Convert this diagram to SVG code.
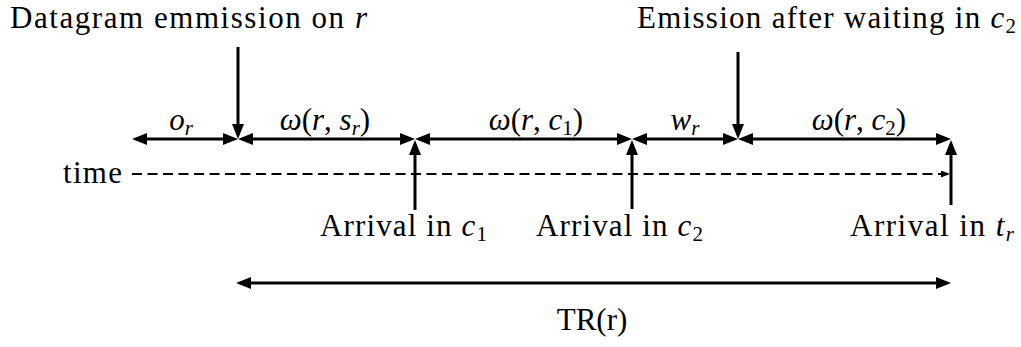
<svg xmlns="http://www.w3.org/2000/svg" width="1021" height="347" viewBox="0 0 1021 347" font-family="Liberation Serif">
<defs>
<marker id="h" markerUnits="userSpaceOnUse" markerWidth="16" markerHeight="13" refX="11" refY="6" orient="auto-start-reverse">
<path d="M0,0 L15,6 L0,12 Z" fill="#000" stroke="none"/>
</marker>
<marker id="hs" markerUnits="userSpaceOnUse" markerWidth="10" markerHeight="8" refX="7" refY="3.5" orient="auto">
<path d="M0,0 L9,3.5 L0,7 Z" fill="#000" stroke="none"/>
</marker>
</defs>
<g id="connectors" stroke="#000" stroke-width="3" fill="none">
<line x1="132" y1="174" x2="948" y2="174" stroke-width="2" stroke-dasharray="10 5.5" marker-end="url(#hs)"/>
<line x1="136" y1="139" x2="234" y2="139" marker-start="url(#h)" marker-end="url(#h)"/>
<line x1="242" y1="139" x2="411" y2="139" marker-start="url(#h)" marker-end="url(#h)"/>
<line x1="419" y1="139" x2="628" y2="139" marker-start="url(#h)" marker-end="url(#h)"/>
<line x1="636" y1="139" x2="734" y2="139" marker-start="url(#h)" marker-end="url(#h)"/>
<line x1="742" y1="139" x2="947" y2="139" marker-start="url(#h)" marker-end="url(#h)"/>
<line x1="238" y1="47" x2="238" y2="135" marker-end="url(#h)"/>
<line x1="738" y1="52" x2="738" y2="135" marker-end="url(#h)"/>
<line x1="415" y1="210" x2="415" y2="144" marker-end="url(#h)"/>
<line x1="632" y1="209" x2="632" y2="144" marker-end="url(#h)"/>
<line x1="951" y1="205" x2="951" y2="144" marker-end="url(#h)"/>
<line x1="240" y1="283" x2="947" y2="283" marker-start="url(#h)" marker-end="url(#h)"/>
</g>
<g id="emission-r"><text font-family="Liberation Serif" font-size="31" x="10" y="28" textLength="357">Datagram emmission on <tspan font-style="italic">r</tspan></text></g>
<g id="emission-c2"><text font-family="Liberation Serif" font-size="31" x="637" y="28" textLength="379">Emission after waiting in <tspan font-style="italic">c</tspan><tspan font-size="21" dy="5">2</tspan></text></g>
<g id="time"><text font-family="Liberation Serif" font-size="31" x="63" y="183" textLength="59">time</text></g>
<g id="arrival-c1"><text font-family="Liberation Serif" font-size="31" x="320" y="236" textLength="167">Arrival in <tspan font-style="italic">c</tspan><tspan font-size="21" dy="5">1</tspan></text></g>
<g id="arrival-c2"><text font-family="Liberation Serif" font-size="31" x="536" y="236" textLength="167">Arrival in <tspan font-style="italic">c</tspan><tspan font-size="21" dy="5">2</tspan></text></g>
<g id="arrival-tr"><text font-family="Liberation Serif" font-size="31" x="850" y="236" textLength="164">Arrival in <tspan font-style="italic">t</tspan><tspan font-size="21" font-style="italic" dy="5">r</tspan></text></g>
<g id="label-or"><text font-family="Liberation Serif" font-size="31" x="181" y="130" text-anchor="middle"><tspan font-style="italic">o</tspan><tspan font-size="21" font-style="italic" dy="5">r</tspan></text></g>
<g id="label-wsr"><text font-family="Liberation Serif" font-size="31" x="325" y="130" text-anchor="middle"><tspan font-style="italic">ω</tspan>(<tspan font-style="italic">r</tspan>, <tspan font-style="italic">s</tspan><tspan font-size="21" font-style="italic" dy="5">r</tspan><tspan dy="-5">)</tspan></text></g>
<g id="label-wc1"><text font-family="Liberation Serif" font-size="31" x="536" y="130" text-anchor="middle"><tspan font-style="italic">ω</tspan>(<tspan font-style="italic">r</tspan>, <tspan font-style="italic">c</tspan><tspan font-size="21" dy="5">1</tspan><tspan dy="-5">)</tspan></text></g>
<g id="label-wr"><text font-family="Liberation Serif" font-size="31" x="685" y="130" text-anchor="middle"><tspan font-style="italic">w</tspan><tspan font-size="21" font-style="italic" dy="5">r</tspan></text></g>
<g id="label-wc2"><text font-family="Liberation Serif" font-size="31" x="859" y="130" text-anchor="middle"><tspan font-style="italic">ω</tspan>(<tspan font-style="italic">r</tspan>, <tspan font-style="italic">c</tspan><tspan font-size="21" dy="5">2</tspan><tspan dy="-5">)</tspan></text></g>
<g id="label-tr"><text font-family="Liberation Serif" font-size="31" x="592" y="330" text-anchor="middle">TR(r)</text></g>
</svg>
